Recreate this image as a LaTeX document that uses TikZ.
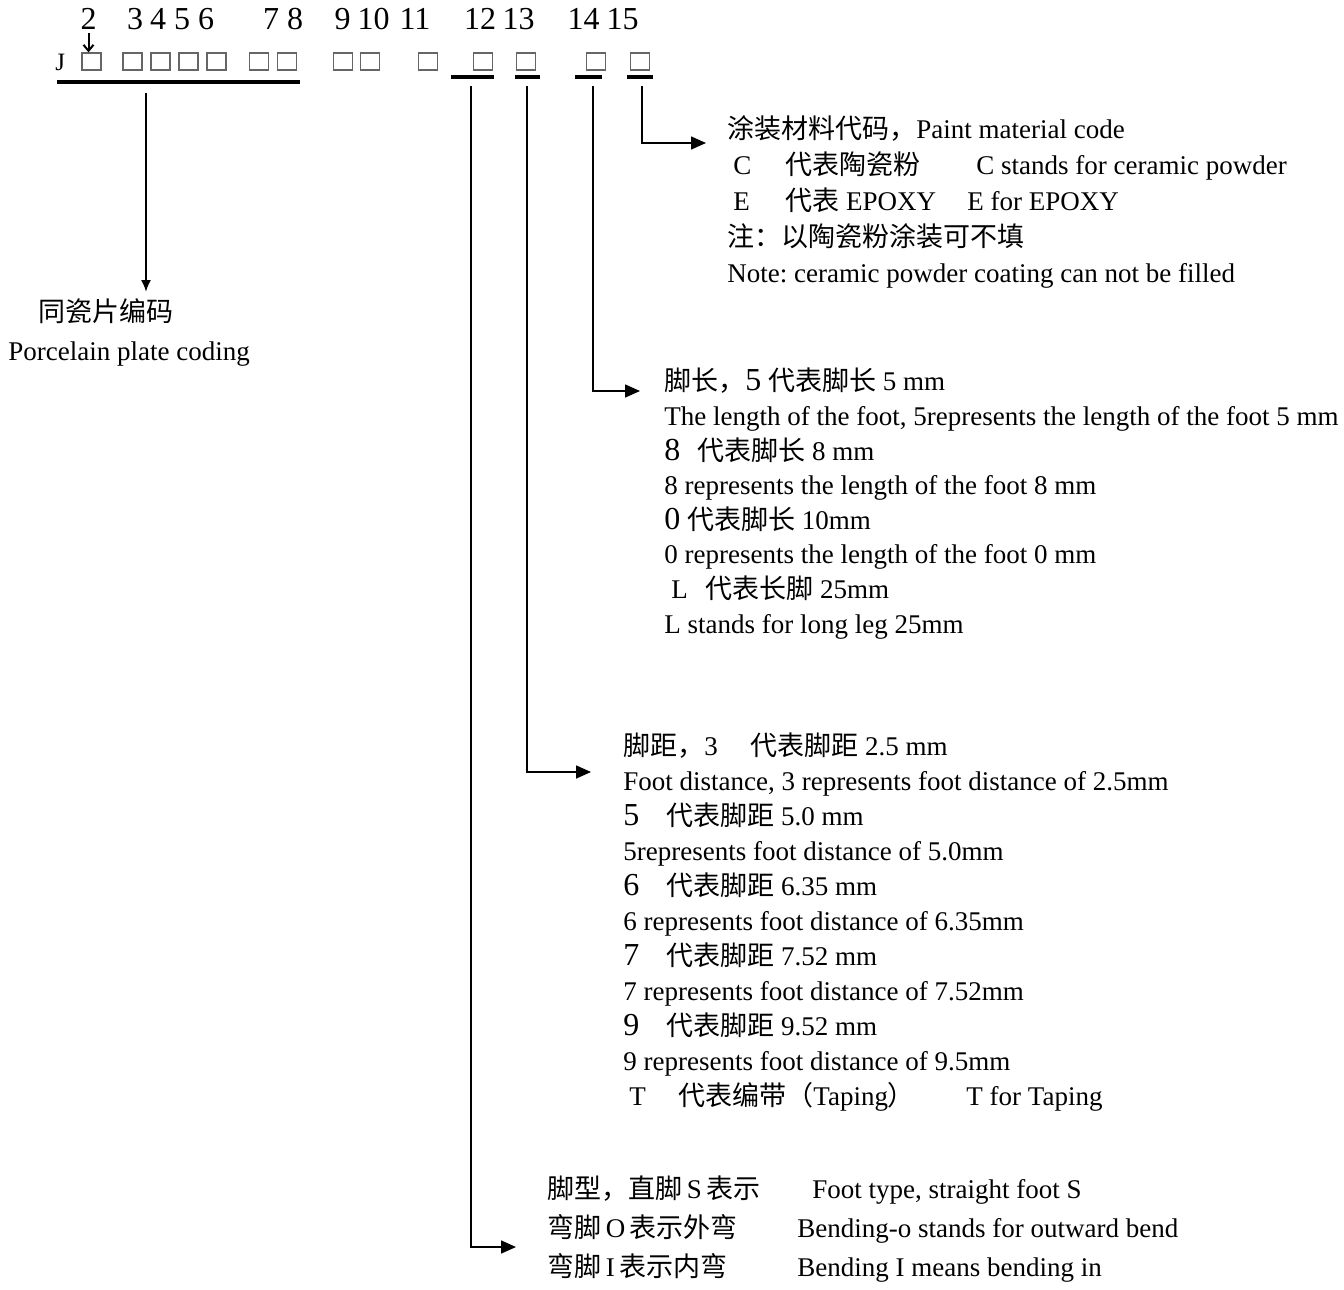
\documentclass[tikz,border=0pt]{standalone}
\usepackage{fontspec}
\setmainfont{Liberation Serif}
\newfontfamily\cjk{Noto Sans CJK SC}
\usetikzlibrary{positioning,arrows.meta}
\newcommand{\cn}[1]{{\cjk #1}}
\newcommand{\bigd}[1]{{\fontsize{16}{16}\selectfont #1}}
\newcommand{\colw}[2]{\makebox[#1][l]{#2}}
\frenchspacing

\begin{document}
\begin{tikzpicture}[x=0.5pt,y=-0.5pt,
  txt/.style={anchor=base west,inner sep=0pt,align=left,font=\fontsize{13.5}{17.5}\selectfont},
  cell/.style={draw=black!60,line width=0.6pt,minimum width=9.5pt,minimum height=8.5pt,inner sep=0pt},
  digit/.style={anchor=base,inner sep=0pt,font=\fontsize{16}{16}\selectfont},
  bar/.style={line width=1.6pt},
  flow/.style={-{Triangle[length=7.5pt,width=6.5pt]},line width=0.8pt},
  drop/.style={-{Latex[length=6pt,width=5pt]},line width=1pt},
  pin/.style={-{Straight Barb[length=3pt,width=5pt]},line width=1pt}]

\useasboundingbox (0,0) rectangle (1344,1290);

% code row
\node[txt,font=\fontsize{12.5}{12.5}\selectfont] (J) at (55,70) {J};
\foreach \n/\x in {2/88.5,3/135,4/158,5/182,6/206,7/271,8/295,9/342.5,10/373.5,11/415,12/480,13/518.5,14/583.5,15/622.5}
  \node[digit] (d\n) at (\x,29) {\n};
\foreach \n/\x in {2/91.5,3/132.5,4/160.5,5/188.5,6/216.5,7/259,8/287,9/343,10/370,11/428,12/483,13/526,14/596,15/640}
  \node[cell] (c\n) at (\x,61.5) {};
\draw[pin] ([yshift=-2pt]d2.south) -- (d2.south |- c2.north);

% underlines
\draw[bar] (57,82) -- (300,82);
\draw[bar] (451,77) -- (494,77);
\draw[bar] (515,77) -- (540,77);
\draw[bar] (575,77) -- (602,77);
\draw[bar] (627,77) -- (653,77);

% porcelain plate
\node[txt] (zh0) at (38,321) {\cn{同瓷片编码}};
\node[txt] (en0) at (8,360) {Porcelain plate coding};
\coordinate (s0) at (146,93);
\coordinate (a0) at (146,292);
\draw[drop] (s0) -- (a0);

% paint material (node base = last line)
\node[txt,font=\fontsize{13.5}{18}\selectfont] (t15) at (727,282) {\cn{涂装材料代码，}Paint material code\\
\hspace*{3pt}\colw{26pt}{C}\cn{代表陶瓷粉}\hspace{28pt}C stands for ceramic powder\\
\hspace*{3pt}\colw{26pt}{E}\colw{91pt}{\cn{代表} EPOXY}E for EPOXY\\
\cn{注：以陶瓷粉涂装可不填}\\
Note: ceramic powder coating can not be filled};
\coordinate (s15) at (642,86);
\coordinate (a15) at (706,143);
\draw[flow] (s15) |- (a15);

% foot length
\node[txt,font=\fontsize{13.5}{17.3}\selectfont] (t14) at (664,633) {\cn{脚长，}\bigd{5} \cn{代表脚长} 5 mm\\
The length of the foot, 5represents the length of the foot 5 mm\\
\colw{16.5pt}{\bigd{8}}\cn{代表脚长} 8 mm\\
8 represents the length of the foot 8 mm\\
\bigd{0} \cn{代表脚长} 10mm\\
0 represents the length of the foot 0 mm\\
\hspace*{3.5pt}\colw{17pt}{L}\cn{代表长脚} 25mm\\
L stands for long leg 25mm};
\coordinate (s14) at (593,86);
\coordinate (a14) at (640,391);
\draw[flow] (s14) |- (a14);

% foot distance
\node[txt,font=\fontsize{13.5}{17.5}\selectfont] (t13) at (623,1105) {\colw{63.5pt}{\cn{脚距，}3}\cn{代表脚距} 2.5 mm\\
Foot distance, 3 represents foot distance of 2.5mm\\
\colw{21.5pt}{\bigd{5}}\cn{代表脚距} 5.0 mm\\
5represents foot distance of 5.0mm\\
\colw{21.5pt}{\bigd{6}}\cn{代表脚距} 6.35 mm\\
6 represents foot distance of 6.35mm\\
\colw{21.5pt}{\bigd{7}}\cn{代表脚距} 7.52 mm\\
7 represents foot distance of 7.52mm\\
\colw{21.5pt}{\bigd{9}}\cn{代表脚距} 9.52 mm\\
9 represents foot distance of 9.5mm\\
\hspace*{3pt}\colw{24.5pt}{T}\colw{144pt}{\cn{代表编带（}Taping\cn{）}}T for Taping};
\coordinate (s13) at (527,86);
\coordinate (a13) at (591,772);
\draw[flow] (s13) |- (a13);

% foot type
\node[txt,font=\fontsize{13.5}{19.5}\selectfont] (t12) at (547,1276) {\colw{125pt}{\cn{脚型，直脚}\,S\,\cn{表示}}\hspace*{7.5pt}Foot type, straight foot S\\
\colw{125pt}{\cn{弯脚}\,O\,\cn{表示外弯}}Bending-o stands for outward bend\\
\colw{125pt}{\cn{弯脚}\,I\,\cn{表示内弯}}Bending I means bending in};
\coordinate (s12) at (471,86);
\coordinate (a12) at (516,1247);
\draw[flow] (s12) |- (a12);
\end{tikzpicture}
\end{document}
